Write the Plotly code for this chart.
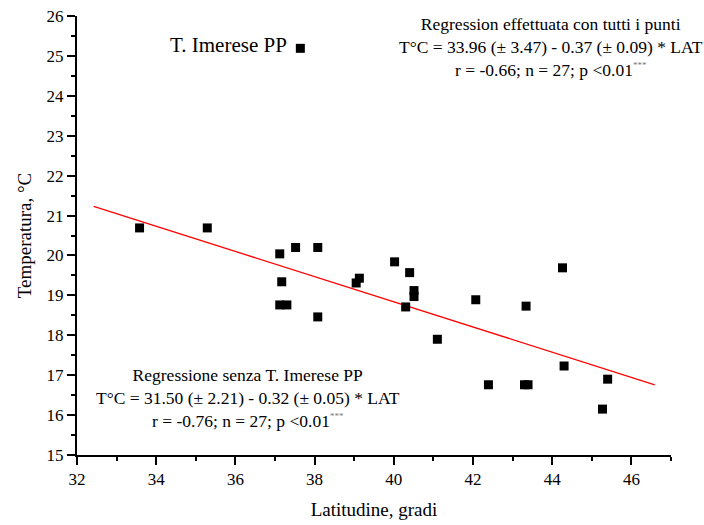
import plotly.graph_objects as go

# Data
latitude = [33.58, 35.29, 37.12, 37.52, 38.08, 37.17, 37.12, 37.30, 38.08,
            39.13, 39.05, 40.02, 40.40, 40.51, 40.51, 40.30, 41.10, 42.07,
            43.34, 44.26, 42.39, 43.30, 43.39, 44.30, 45.40, 45.27, 37.64]
temperature = [20.69, 20.69, 20.04, 20.20, 20.20, 19.34, 18.76, 18.76, 18.46,
               19.43, 19.31, 19.84, 19.57, 19.12, 18.97, 18.71, 17.90, 18.89,
               18.73, 19.69, 16.76, 16.76, 16.76, 17.23, 16.90, 16.15, 25.19]

# Regression line endpoints (as drawn)
line_x = [32.42, 46.59]
line_y = [21.23, 16.76]

x_ticks = [32, 34, 36, 38, 40, 42, 44, 46]
y_ticks = [15, 16, 17, 18, 19, 20, 21, 22, 23, 24, 25, 26]

FONT = "Liberation Serif"

fig = go.Figure()
fig.add_trace(go.Scatter(x=line_x, y=line_y, mode="lines",
                         line=dict(color="#ff0000", width=1.3),
                         hoverinfo="skip", showlegend=False))
fig.add_trace(go.Scatter(x=latitude, y=temperature, mode="markers",
                         marker=dict(symbol="square", size=9, color="black",
                                     line=dict(width=0)),
                         showlegend=False))

axis_common = dict(showline=True, linecolor="black", linewidth=2,
                   ticks="outside", ticklen=8, tickwidth=2, tickcolor="black",
                   showgrid=False, zeroline=False, mirror=False,
                   automargin=False,
                   tickfont=dict(family=FONT, size=17, color="black"))

fig.update_xaxes(range=[32, 47], tickvals=x_ticks,
                 minor=dict(dtick=1, tick0=32, ticklen=4, tickwidth=2,
                            tickcolor="black", ticks="outside", showgrid=False),
                 title=dict(text="Latitudine, gradi", standoff=14,
                            font=dict(family=FONT, size=19, color="black")),
                 **axis_common)
fig.update_yaxes(range=[15, 26], tickvals=y_ticks,
                 minor=dict(dtick=0.5, tick0=15, ticklen=4, tickwidth=2,
                            tickcolor="black", ticks="outside", showgrid=False),
                 title=dict(text="Temperatura, °C", standoff=10,
                            font=dict(family=FONT, size=19, color="black")),
                 **axis_common)

sup = "<sup><span style='font-size:9px;color:#777'>***</span></sup>"

fig.add_annotation(x=37.35, y=25.27, xref="x", yref="y", xanchor="right",
                   yanchor="middle", showarrow=False,
                   text="T. Imerese PP",
                   font=dict(family=FONT, size=21, color="black"))

fig.add_annotation(x=0.798, y=0.9305, xref="paper", yref="paper",
                   xanchor="center", yanchor="middle", showarrow=False,
                   align="center",
                   text=("Regression effettuata con tutti i punti<br>"
                         "T°C = 33.96 (± 3.47) - 0.37 (± 0.09) * LAT<br>"
                         "r = -0.66; n = 27; p &lt;0.01" + sup),
                   font=dict(family=FONT, size=17.5, color="black"))

fig.add_annotation(x=0.288, y=0.1298, xref="paper", yref="paper",
                   xanchor="center", yanchor="middle", showarrow=False,
                   align="center",
                   text=("Regressione senza T. Imerese PP<br>"
                         "T°C = 31.50 (± 2.21) - 0.32 (± 0.05) * LAT<br>"
                         "r = -0.76; n = 27; p &lt;0.01" + sup),
                   font=dict(family=FONT, size=17.5, color="black"))

fig.update_layout(width=704, height=525,
                  margin=dict(l=77, r=33, t=16, b=70),
                  paper_bgcolor="white", plot_bgcolor="white",
                  font=dict(family=FONT, color="black"),
                  showlegend=False)

fig.write_html("out.html")
